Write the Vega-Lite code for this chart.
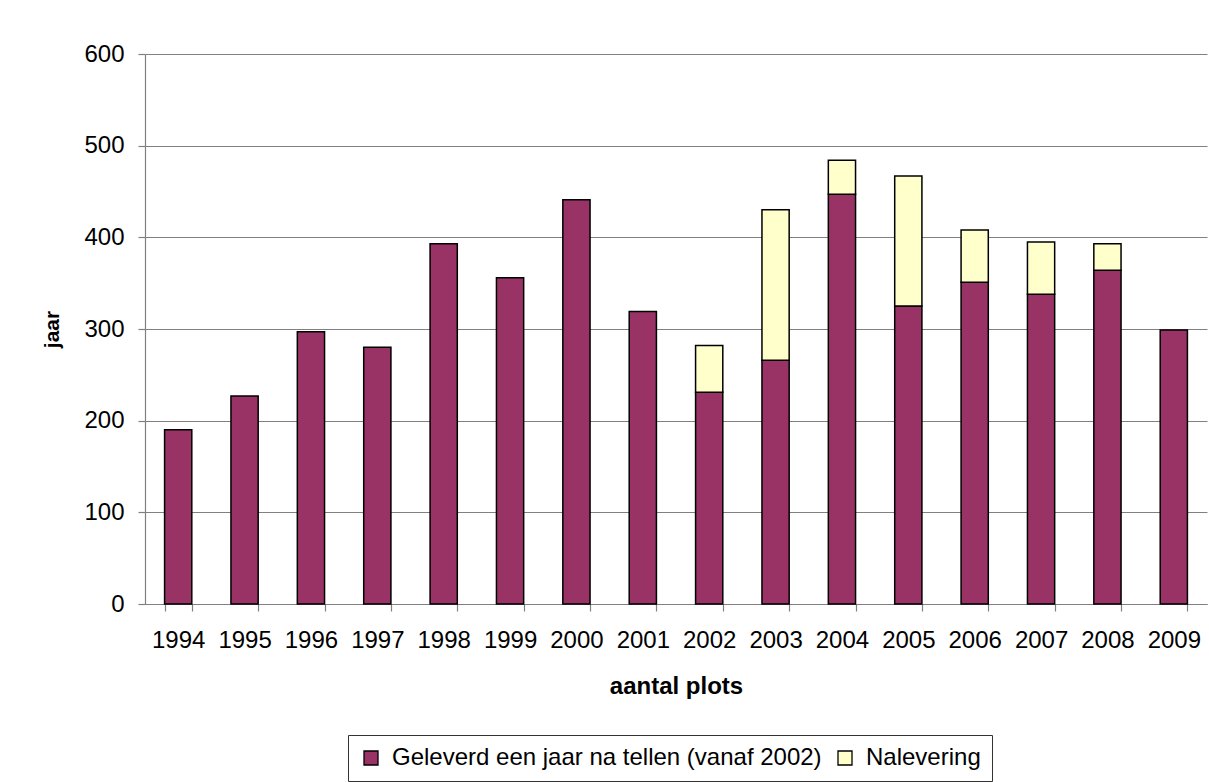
{
  "$schema": "https://vega.github.io/schema/vega-lite/v6.json",
  "width": 1062,
  "height": 550,
  "autosize": {"type": "none"},
  "padding": {"left": 145, "top": 54, "right": 2, "bottom": 178},
  "background": "white",
  "data": {
    "values": [
      {"year": "1994", "serie": "Geleverd een jaar na tellen (vanaf 2002)", "value": 190},
      {"year": "1995", "serie": "Geleverd een jaar na tellen (vanaf 2002)", "value": 227},
      {"year": "1996", "serie": "Geleverd een jaar na tellen (vanaf 2002)", "value": 297},
      {"year": "1997", "serie": "Geleverd een jaar na tellen (vanaf 2002)", "value": 280},
      {"year": "1998", "serie": "Geleverd een jaar na tellen (vanaf 2002)", "value": 393},
      {"year": "1999", "serie": "Geleverd een jaar na tellen (vanaf 2002)", "value": 356},
      {"year": "2000", "serie": "Geleverd een jaar na tellen (vanaf 2002)", "value": 441},
      {"year": "2001", "serie": "Geleverd een jaar na tellen (vanaf 2002)", "value": 319},
      {"year": "2002", "serie": "Geleverd een jaar na tellen (vanaf 2002)", "value": 231},
      {"year": "2002", "serie": "Nalevering", "value": 51},
      {"year": "2003", "serie": "Geleverd een jaar na tellen (vanaf 2002)", "value": 266},
      {"year": "2003", "serie": "Nalevering", "value": 164},
      {"year": "2004", "serie": "Geleverd een jaar na tellen (vanaf 2002)", "value": 447},
      {"year": "2004", "serie": "Nalevering", "value": 37},
      {"year": "2005", "serie": "Geleverd een jaar na tellen (vanaf 2002)", "value": 325},
      {"year": "2005", "serie": "Nalevering", "value": 142},
      {"year": "2006", "serie": "Geleverd een jaar na tellen (vanaf 2002)", "value": 351},
      {"year": "2006", "serie": "Nalevering", "value": 57},
      {"year": "2007", "serie": "Geleverd een jaar na tellen (vanaf 2002)", "value": 338},
      {"year": "2007", "serie": "Nalevering", "value": 57},
      {"year": "2008", "serie": "Geleverd een jaar na tellen (vanaf 2002)", "value": 364},
      {"year": "2008", "serie": "Nalevering", "value": 29},
      {"year": "2009", "serie": "Geleverd een jaar na tellen (vanaf 2002)", "value": 299}
    ]
  },
  "mark": {"type": "bar", "stroke": "black", "strokeWidth": 1.5},
  "encoding": {
    "x": {
      "field": "year",
      "type": "ordinal",
      "scale": {"paddingInner": 0.59, "paddingOuter": 0.295},
      "axis": {
        "title": "aantal plots",
        "labelAngle": 0,
        "tickBand": "extent",
        "tickSize": 7,
        "labelPadding": 17,
        "titlePadding": 22,
        "titleFontSize": 24
      }
    },
    "y": {
      "field": "value",
      "type": "quantitative",
      "stack": "zero",
      "scale": {"domain": [0, 600], "nice": false},
      "axis": {
        "title": "jaar",
        "values": [0, 100, 200, 300, 400, 500, 600],
        "tickSize": 7,
        "labelPadding": 14,
        "titlePadding": 21,
        "titleFontSize": 21
      }
    },
    "color": {
      "field": "serie",
      "type": "nominal",
      "scale": {
        "domain": ["Geleverd een jaar na tellen (vanaf 2002)", "Nalevering"],
        "range": ["#993366", "#FFFFCC"]
      },
      "legend": {
        "title": null,
        "orient": "none",
        "legendX": 203,
        "legendY": 681,
        "direction": "horizontal",
        "symbolType": "square",
        "symbolSize": 196,
        "symbolStrokeColor": "black",
        "symbolStrokeWidth": 1.3,
        "symbolOpacity": 1,
        "labelFontSize": 24,
        "labelFont": "Liberation Sans",
        "labelColor": "black",
        "labelLimit": 700,
        "columnPadding": 11,
        "labelOffset": 9,
        "strokeColor": "#333333",
        "padding": 11
      }
    },
    "order": {"field": "serie", "sort": "ascending"}
  },
  "config": {
    "font": "Liberation Sans",
    "view": {"stroke": null},
    "axis": {
      "labelFont": "Liberation Sans",
      "labelFontSize": 24,
      "labelColor": "black",
      "titleFont": "Liberation Sans",
      "titleFontWeight": "bold",
      "titleColor": "black",
      "domainColor": "#808080",
      "tickColor": "#808080",
      "gridColor": "#808080",
      "domainWidth": 1.2,
      "tickWidth": 1.2
    },
    "axisX": {"grid": false},
    "axisY": {"grid": true, "gridWidth": 1.2}
  }
}
